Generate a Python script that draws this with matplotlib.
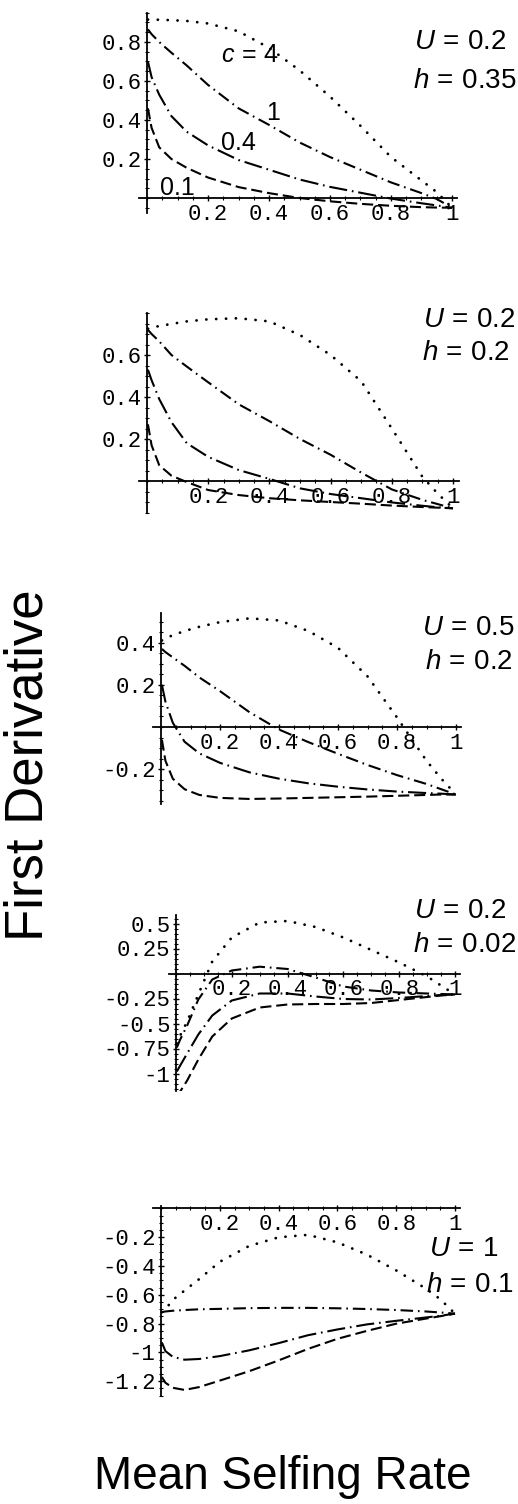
import numpy as np
import matplotlib
matplotlib.use("Agg")
import matplotlib.pyplot as plt
from matplotlib.ticker import MultipleLocator

## figure is 518 x 1504 px, positions below are in pixels of that picture
W, H = 518, 1504

## common sampling of the mean selfing rate
x = [0.003, 0.015, 0.04, 0.08, 0.13, 0.2, 0.3, 0.4, 0.5, 0.6, 0.7, 0.8, 0.9, 0.95, 1.0]

## panel 1: U = 0.2, h = 0.35
p1_c4 = [0.915, 0.915, 0.914, 0.912, 0.908, 0.895, 0.855, 0.77, 0.655, 0.52, 0.37, 0.21, 0.09, 0.03, -0.05]
p1_c1 = [0.865, 0.84, 0.80, 0.745, 0.68, 0.58, 0.46, 0.375, 0.285, 0.21, 0.145, 0.08, 0.025, -0.005, -0.05]
p1_c04 = [0.70, 0.62, 0.53, 0.42, 0.34, 0.27, 0.195, 0.145, 0.095, 0.057, 0.027, -0.003, -0.027, -0.038, -0.05]
p1_c01 = [0.46, 0.36, 0.26, 0.20, 0.155, 0.105, 0.056, 0.025, 0.0, -0.017, -0.03, -0.04, -0.047, -0.049, -0.05]

## panel 2: U = 0.2, h = 0.2
p2_c4 = [0.725, 0.73, 0.738, 0.748, 0.76, 0.77, 0.775, 0.76, 0.695, 0.60, 0.475, 0.25, 0.02, -0.06, -0.13]
p2_c1 = [0.72, 0.70, 0.665, 0.60, 0.545, 0.47, 0.365, 0.285, 0.20, 0.125, 0.04, -0.04, -0.09, -0.11, -0.13]
p2_c04 = [0.53, 0.48, 0.39, 0.28, 0.18, 0.115, 0.052, 0.01, -0.035, -0.062, -0.082, -0.102, -0.118, -0.125, -0.13]
p2_c01 = [0.27, 0.17, 0.075, 0.025, -0.005, -0.043, -0.067, -0.082, -0.092, -0.10, -0.108, -0.117, -0.124, -0.127, -0.13]

## panel 3: U = 0.5, h = 0.2
p3_c4 = [0.41, 0.42, 0.435, 0.455, 0.475, 0.497, 0.515, 0.505, 0.455, 0.375, 0.24, 0.045, -0.16, -0.245, -0.32]
p3_c1 = [0.37, 0.355, 0.33, 0.29, 0.235, 0.17, 0.07, -0.012, -0.072, -0.127, -0.18, -0.228, -0.27, -0.295, -0.32]
p3_c04 = [0.20, 0.12, 0.02, -0.07, -0.125, -0.17, -0.215, -0.245, -0.267, -0.283, -0.296, -0.306, -0.313, -0.316, -0.32]
p3_c01 = [-0.06, -0.16, -0.245, -0.295, -0.322, -0.336, -0.341, -0.339, -0.336, -0.333, -0.33, -0.326, -0.322, -0.32, -0.32]

## panel 4: U = 0.2, h = 0.02
p4_c4 = [-0.70, -0.62, -0.48, -0.21, 0.12, 0.36, 0.51, 0.525, 0.465, 0.36, 0.235, 0.11, -0.03, -0.12, -0.21]
p4_c1 = [-0.74, -0.66, -0.52, -0.26, -0.06, 0.03, 0.068, 0.045, -0.04, -0.13, -0.17, -0.19, -0.20, -0.205, -0.21]
p4_c04 = [-0.98, -0.92, -0.80, -0.61, -0.42, -0.27, -0.20, -0.20, -0.23, -0.255, -0.26, -0.245, -0.225, -0.215, -0.21]
p4_c01 = [-1.24, -1.18, -1.07, -0.86, -0.63, -0.45, -0.34, -0.31, -0.305, -0.305, -0.295, -0.265, -0.235, -0.22, -0.21]

## panel 5: U = 1, h = 0.1
p5_c4 = [-0.72, -0.70, -0.635, -0.57, -0.49, -0.37, -0.26, -0.20, -0.183, -0.235, -0.32, -0.43, -0.555, -0.63, -0.73]
p5_c1 = [-0.72, -0.715, -0.71, -0.705, -0.70, -0.697, -0.692, -0.69, -0.69, -0.693, -0.698, -0.705, -0.715, -0.722, -0.73]
p5_c04 = [-0.93, -0.99, -1.03, -1.05, -1.045, -1.025, -0.985, -0.935, -0.88, -0.84, -0.805, -0.78, -0.757, -0.745, -0.73]
p5_c01 = [-1.17, -1.21, -1.245, -1.26, -1.24, -1.195, -1.13, -1.055, -0.975, -0.905, -0.85, -0.80, -0.765, -0.748, -0.73]

x_ticks = [0.2, 0.4, 0.6, 0.8, 1.0]
x_ticklabels = ["0.2", "0.4", "0.6", "0.8", "1"]

y_ticks = [
    [0.2, 0.4, 0.6, 0.8],
    [0.2, 0.4, 0.6],
    [-0.2, 0.2, 0.4],
    [-1.0, -0.75, -0.5, -0.25, 0.25, 0.5],
    [-1.2, -1.0, -0.8, -0.6, -0.4, -0.2],
]
y_ticklabels = [
    ["0.2", "0.4", "0.6", "0.8"],
    ["0.2", "0.4", "0.6"],
    ["-0.2", "0.2", "0.4"],
    ["-1", "-0.75", "-0.5", "-0.25", "0.25", "0.5"],
    ["-1.2", "-1", "-0.8", "-0.6", "-0.4", "-0.2"],
]

params_U = ["0.2", "0.2", "0.5", "0.2", "1"]
params_h = ["0.35", "0.2", "0.2", "0.02", "0.1"]

curves = [
    [p1_c4, p1_c1, p1_c04, p1_c01],
    [p2_c4, p2_c1, p2_c04, p2_c01],
    [p3_c4, p3_c1, p3_c04, p3_c01],
    [p4_c4, p4_c1, p4_c04, p4_c01],
    [p5_c4, p5_c1, p5_c04, p5_c01],
]

## pixel layout of each panel: x=0 px, x=1 px, y=0 px, px per y unit, y range
layout = [
    (147, 452, 198.0, 195, (-0.077, 0.95)),
    (147, 453, 481.0, 210, (-0.154, 0.80)),
    (161, 456, 727.0, 211, (-0.365, 0.54)),
    (176, 455, 973.5, 100, (-1.17, 0.59)),
    (161, 455, 1208.5, 144, (-1.30, 0.02)),
]
xlim = (-0.026, 1.018)

## label positions (right x, centre y) for U and h
U_pos = [(506, 41), (515, 319), (515, 627), (506, 910), (498, 1248)]
h_pos = [(516, 80), (510, 352), (513, 661), (516, 944), (514, 1284)]

plt.rcParams["lines.scale_dashes"] = False
plt.rcParams["mathtext.fontset"] = "custom"
plt.rcParams["mathtext.rm"] = "Liberation Sans"
plt.rcParams["mathtext.it"] = "Liberation Sans:italic"

styles = [
    dict(dashes=(0.1, 7.0), lw=2.0, dash_capstyle="round"),   # c = 4 dotted
    dict(dashes=(9.0, 3.5, 1.2, 3.5), lw=1.5),               # c = 1 dash-dot
    dict(dashes=(13.0, 3.5, 1.2, 3.5), lw=1.5),              # c = 0.4 long dash-dot
    dict(dashes=(8.0, 3.5), lw=1.5),                         # c = 0.1 dashed
]

fig = plt.figure(figsize=(W / 100, H / 100), dpi=100)

for i in range(5):
    x0, x1, y0, pyu, ylim = layout[i]
    pxu = x1 - x0
    left = x0 + xlim[0] * pxu
    width = (xlim[1] - xlim[0]) * pxu
    top = y0 - ylim[1] * pyu
    height = (ylim[1] - ylim[0]) * pyu
    ax = fig.add_axes([left / W, 1 - (top + height) / H, width / W, height / H])
    ax.patch.set_alpha(0)

    for ys, st in zip(curves[i], styles):
        ax.plot(x, ys, color="black", **st)

    ax.set_xlim(*xlim)
    ax.set_ylim(*ylim)
    ax.spines["left"].set_position(("data", 0))
    ax.spines["bottom"].set_position(("data", 0))
    ax.spines["right"].set_visible(False)
    ax.spines["top"].set_visible(False)
    for s in ["left", "bottom"]:
        ax.spines[s].set_linewidth(1.3)

    ax.set_xticks(x_ticks)
    ax.set_xticklabels(x_ticklabels)
    ax.set_yticks(y_ticks[i])
    ax.set_yticklabels(y_ticklabels[i])
    ax.xaxis.set_minor_locator(MultipleLocator(0.05))
    ax.yaxis.set_minor_locator(MultipleLocator(0.05))
    ax.tick_params(which="major", direction="inout", length=4, width=1, pad=2)
    ax.tick_params(which="minor", direction="inout", length=2.5, width=0.8)
    for lab in ax.get_xticklabels() + ax.get_yticklabels():
        lab.set_fontfamily("Liberation Mono")
        lab.set_fontsize(16)

    fig.text(U_pos[i][0] / W, 1 - U_pos[i][1] / H, r"$U\,=\,%s$" % params_U[i],
             fontsize=20, ha="right", va="center")
    fig.text(h_pos[i][0] / W, 1 - h_pos[i][1] / H, r"$h\,=\,%s$" % params_h[i],
             fontsize=20, ha="right", va="center")

## curve labels in the top panel
fig.text(250 / W, 1 - 55 / H, r"$c\,=\,4$", fontsize=18, ha="center", va="center")
fig.text(273 / W, 1 - 113 / H, "1", fontsize=18, family="Liberation Sans", ha="center", va="center")
fig.text(238 / W, 1 - 143 / H, "0.4", fontsize=18, family="Liberation Sans", ha="center", va="center")
fig.text(177 / W, 1 - 188 / H, "0.1", fontsize=18, family="Liberation Sans", ha="center", va="center")

fig.text(29 / W, 1 - 765 / H, "First Derivative", rotation=90, fontsize=38,
         family="Liberation Sans", ha="center", va="center")
fig.text(283 / W, 1 - 1477 / H, "Mean Selfing Rate", fontsize=33,
         family="Liberation Sans", ha="center", va="center")

fig.savefig("out.png", dpi=100)
